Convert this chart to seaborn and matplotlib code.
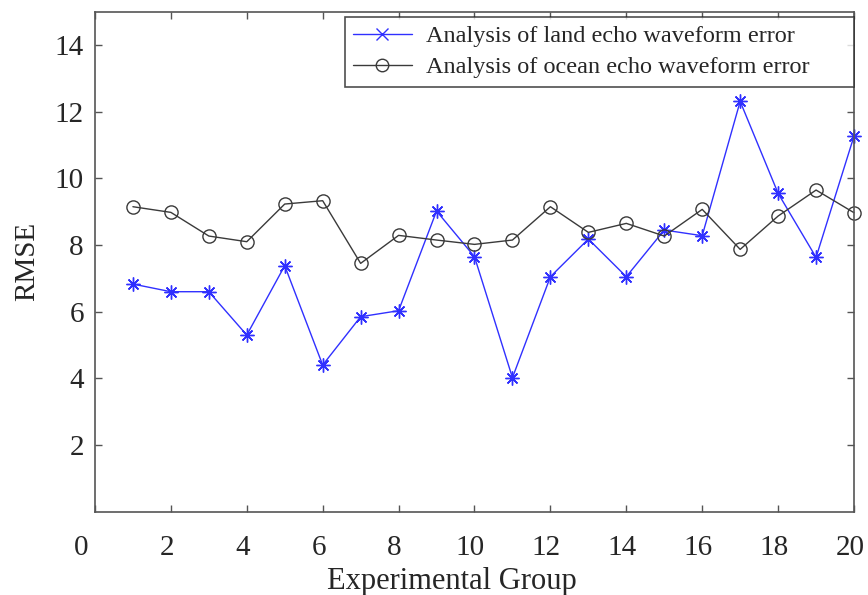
import numpy as np
import pandas as pd
import matplotlib
matplotlib.use("Agg")
import matplotlib.pyplot as plt
import matplotlib.transforms as mtransforms
import seaborn as sns

groups = list(range(1, 21))
land_rmse = [6.83, 6.60, 6.60, 5.30, 7.38, 4.40, 5.85, 6.03, 9.02, 7.65,
             4.02, 7.05, 8.18, 7.05, 8.45, 8.28, 12.31, 9.55, 7.63, 11.27]
ocean_rmse = [9.15, 8.98, 8.27, 8.10, 9.23, 9.33, 7.45, 8.29, 8.15, 8.02,
              8.15, 9.15, 8.38, 8.65, 8.27, 9.07, 7.87, 8.87, 9.65, 8.97]
land_label = "Analysis of land echo waveform error"
ocean_label = "Analysis of ocean echo waveform error"
x_ticks = [0, 2, 4, 6, 8, 10, 12, 14, 16, 18, 20]
y_ticks = [2, 4, 6, 8, 10, 12, 14]

sns.set_style("ticks")
plt.rcParams["font.family"] = ["Liberation Serif", "DejaVu Serif"]

df = pd.DataFrame({"group": groups, "land": land_rmse, "ocean": ocean_rmse})

fig = plt.figure(figsize=(8.68, 5.95), dpi=100)
ax = fig.add_axes([0.1094, 0.1400, 0.8745, 0.8403])

blue = "#3030ff"
dark = "#3a3a3a"
sns.lineplot(data=df, x="group", y="land", ax=ax, color=blue,
             linewidth=1.0, marker=(8, 2, 0), markersize=10,
             markeredgewidth=1.0, markeredgecolor=blue,
             label=land_label, clip_on=False)
sns.lineplot(data=df, x="group", y="ocean", ax=ax, color=dark,
             linewidth=1.0, marker="o", markersize=9.5,
             markerfacecolor="none", markeredgewidth=1.0,
             markeredgecolor=dark, label=ocean_label, clip_on=False)

ax.set_xlim(0, 20)
ax.set_ylim(0, 15)
ax.set_xticks(x_ticks)
ax.set_yticks(y_ticks)
ax.tick_params(axis="both", direction="in", length=5, width=1.0,
               color="#555555", labelsize=21, top=True, right=True,
               labeltop=False, labelright=False)
ax.tick_params(axis="x", pad=17)
ax.tick_params(axis="y", pad=8)
for s in ax.spines.values():
    s.set_visible(True)
    s.set_color("#555555")
    s.set_linewidth(1.2)

# nudge the x tick labels slightly left, the origin label a bit further
for val, lab in zip(x_ticks, ax.get_xticklabels()):
    dx = -14 if val == 0 else -4
    lab.set_transform(lab.get_transform() +
                      mtransforms.ScaledTranslation(dx / 100, 0, fig.dpi_scale_trans))

ax.set_xlabel("Experimental Group", fontsize=22)
ax.xaxis.set_label_coords(0.470, -0.110)
ax.set_ylabel("RMSE", fontsize=21)
ax.yaxis.set_label_coords(-0.072, 0.5)

leg = ax.legend(loc="upper left", bbox_to_anchor=(0.329, 0.99, 0.671, 0.0),
                mode="expand", fontsize=17.5, frameon=True, fancybox=False,
                borderaxespad=0.0, handlelength=2.4, handletextpad=0.6,
                borderpad=0.35, labelspacing=0.38)
leg.get_frame().set_edgecolor("#222222")
leg.get_frame().set_linewidth(1.2)
h0, h1 = leg.legend_handles
h0.set_marker("x")
h0.set_markersize(9)
h1.set_markersize(9)

fig.savefig("out.png", dpi=100)
